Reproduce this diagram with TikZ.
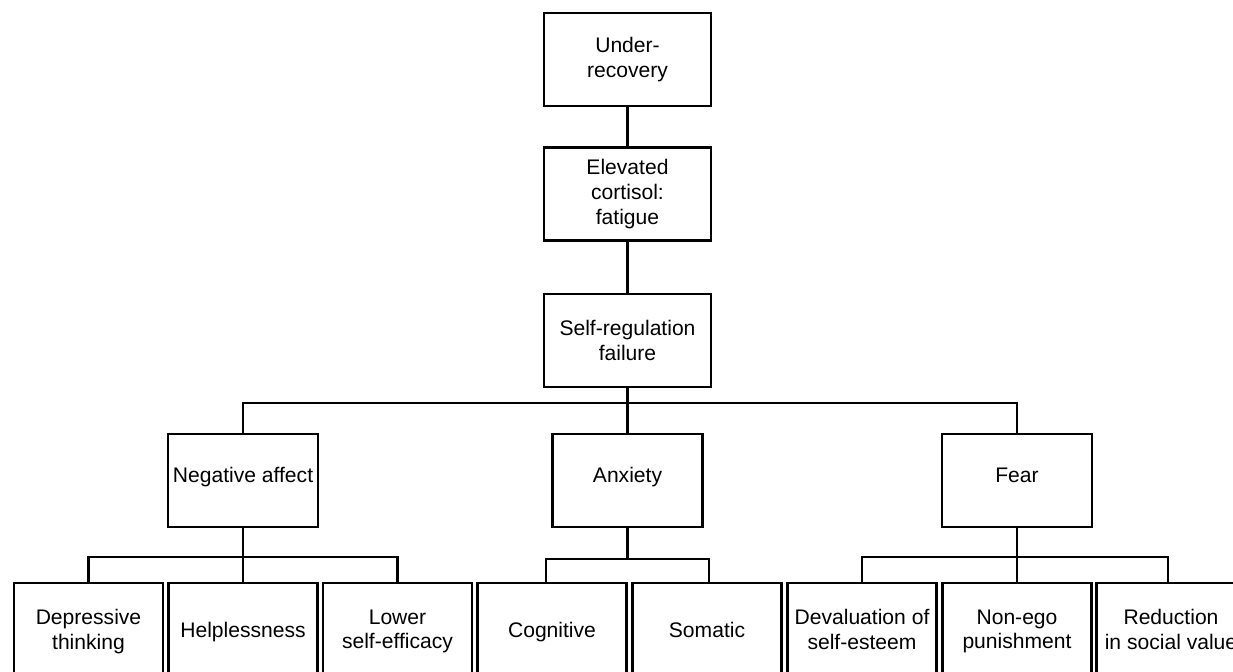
\documentclass[tikz,border=0pt]{standalone}
\usepackage{fontspec}
\setmainfont{Liberation Sans}
\begin{document}
\begin{tikzpicture}[x=0.02cm,y=-0.02cm,
  box/.style={draw, line width=1.4pt, align=center, inner sep=0pt, font=\fontsize{12}{14}\selectfont},
  topbox/.style={box, minimum width=3.34cm, minimum height=1.86cm},
  midbox/.style={box, minimum width=3cm, minimum height=1.86cm, text height=9pt, text depth=7pt},
  leafbox/.style={box, minimum width=2.98cm, minimum height=1.94cm, text depth=2.5pt},
  oneline/.style={text height=8.8pt},
  conn/.style={line width=1.4pt}]
\useasboundingbox (0,0) rectangle (1233,672);
\clip (0,0) rectangle (1233,672);
% top chain
\node[topbox] (ur) at (627.5,59.5) {Under-\\recovery};
\node[topbox] (ec) at (627.5,194) {Elevated\\cortisol:\\fatigue};
\node[topbox] (sr) at (627.5,340.5) {Self-regulation\\failure};
% middle
\node[midbox] (na) at (243,480.5) {Negative affect};
\node[midbox] (ax) at (627.5,480.5) {Anxiety};
\node[midbox] (fe) at (1017,480.5) {Fear};
% leaves
\node[leafbox] (dt) at (88.5,631.5) {Depressive\\thinking};
\node[leafbox, oneline] (hp) at (243,631.5) {Helplessness};
\node[leafbox] (ls) at (397.5,631.5) {Lower\\self-efficacy};
\node[leafbox, oneline] (cg) at (552,631.5) {Cognitive};
\node[leafbox, oneline] (so) at (707,631.5) {Somatic};
\node[leafbox] (de) at (862,631.5) {Devaluation of\\self-esteem};
\node[leafbox] (ne) at (1017,631.5) {Non-ego\\punishment};
\node[leafbox] (rs) at (1171,631.5) {Reduction\\in social value};
% connectors
\draw[conn] (ur) -- (ec);
\draw[conn] (ec) -- (sr);
\draw[conn] (sr.south) -- (ax.north);
\draw[conn] (na.north) -- ++(0,-30) -| (fe.north);
% negative affect group
\draw[conn] (na.south) -- (hp.north);
\draw[conn] (dt.north) -- ++(0,-25) -| (ls.north);
% anxiety group
\draw[conn] (ax.south) -- ++(0,31) coordinate (bx);
\draw[conn] ([xshift=-0.12cm]cg.north) |- (bx) -| ([xshift=0.04cm]so.north);
% fear group
\draw[conn] (fe.south) -- (ne.north);
\draw[conn] (de.north) -- ++(0,-25) -| ([xshift=-0.06cm]rs.north);
\end{tikzpicture}
\end{document}
